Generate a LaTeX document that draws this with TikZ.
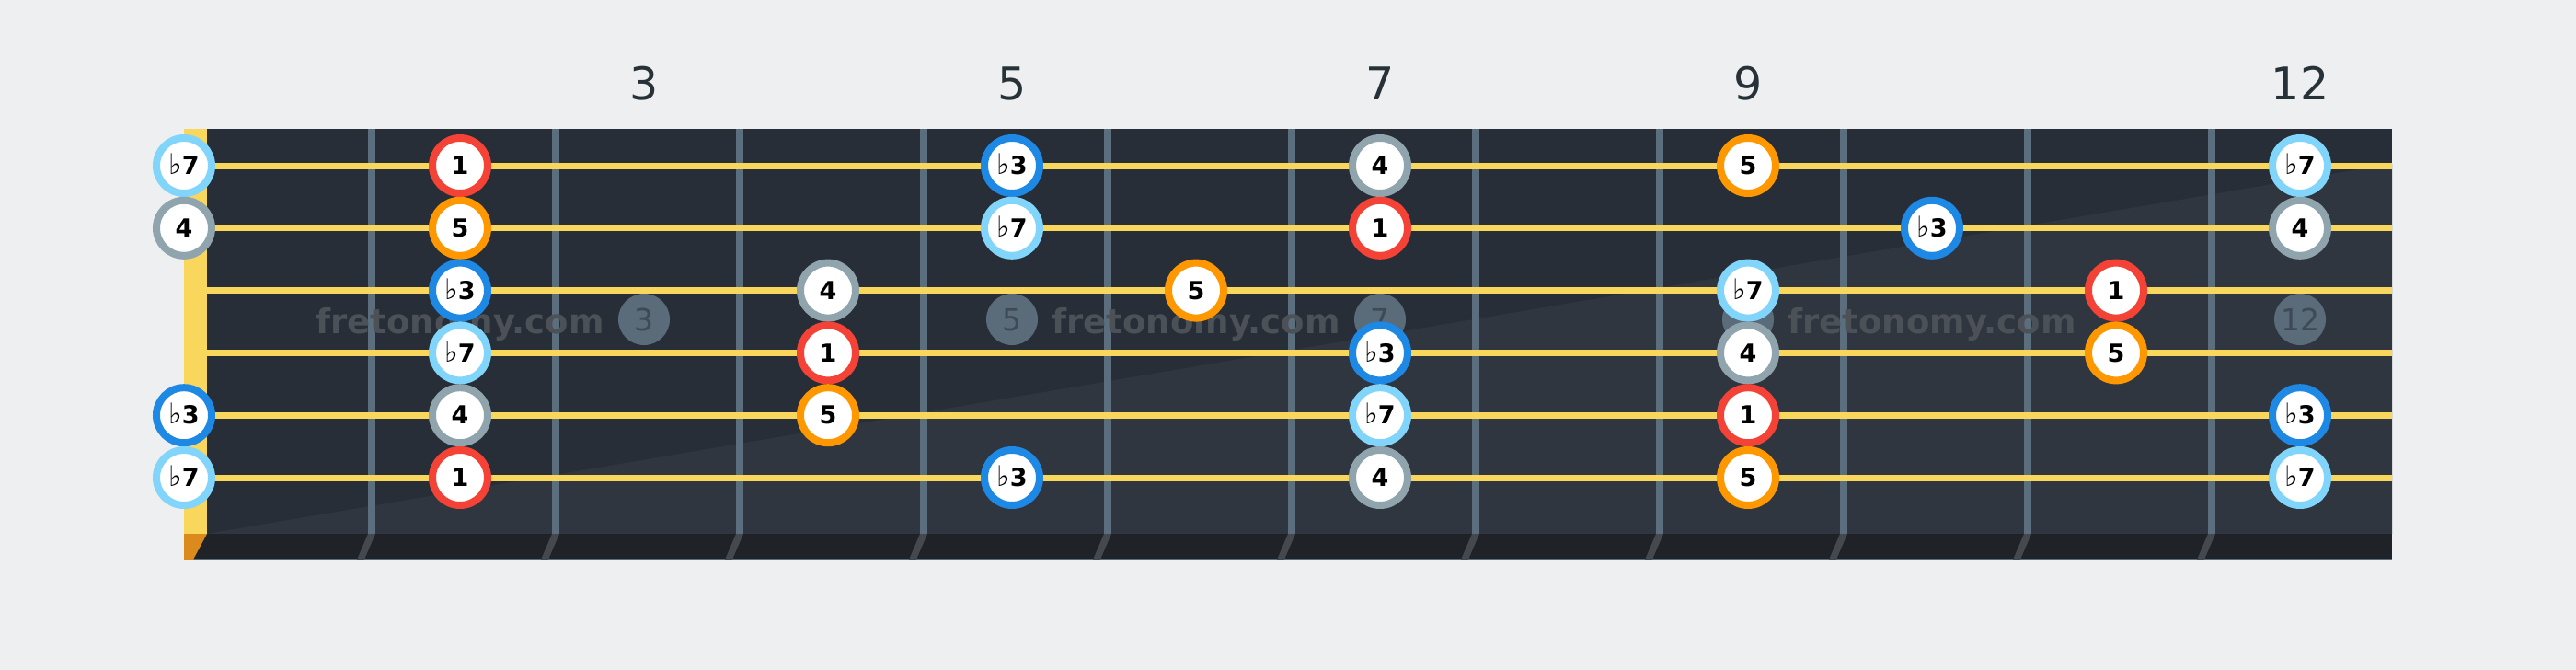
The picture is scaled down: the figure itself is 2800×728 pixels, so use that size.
\documentclass[tikz,border=0pt]{standalone}
\usepackage{fontspec}
\setmainfont{DejaVu Sans}
\definecolor{bgc}{HTML}{EEEFF1}
\definecolor{boardc}{HTML}{272E37}
\definecolor{boardlight}{HTML}{2F363F}
\definecolor{stripc}{HTML}{1F2328}
\definecolor{striplinec}{HTML}{5B6E7E}
\definecolor{wirec}{HTML}{5B6E7E}
\definecolor{hatchc}{HTML}{45494F}
\definecolor{stringc}{HTML}{F9D65C}
\definecolor{nutc}{HTML}{F9D65C}
\definecolor{nutbot}{HTML}{DB8A1C}
\definecolor{fretnumc}{HTML}{263238}
\definecolor{inlayc}{HTML}{5A6B7A}
\definecolor{inlaytxt}{HTML}{3E4A55}
\definecolor{wmc}{HTML}{4C5157}
\definecolor{cR}{HTML}{F44336}
\definecolor{cB}{HTML}{1E88E5}
\definecolor{cG}{HTML}{90A4AE}
\definecolor{cO}{HTML}{FF9800}
\definecolor{cL}{HTML}{81D4FA}
\newcommand\myflat{{\mdseries\fontsize{31}{26}\selectfont ♭}}
\tikzset{
  note/.style={circle, draw=#1, line width=8pt, fill=white, minimum size=60pt, inner sep=0pt,
    font=\bfseries\fontsize{27}{27}\selectfont, text=black, text height=19.5pt, text depth=0pt},
  fretnum/.style={font=\fontsize{49}{49}\selectfont, text=fretnumc, inner sep=0pt, text height=36pt, text depth=0pt},
  inlay/.style={circle, fill=inlayc, minimum size=56pt, inner sep=0pt,
    font=\fontsize{33}{33}\selectfont, text=inlaytxt, text height=24pt, text depth=0pt},
  watermark/.style={font=\bfseries\fontsize{37}{37}\selectfont, text=wmc, inner sep=0pt, anchor=base},
  stringline/.style={draw=stringc, line width=7pt},
}
\begin{document}
\begin{tikzpicture}[x=1pt,y=-1pt]
\useasboundingbox (0,0) rectangle (2800,728);
\fill[bgc] (0,0) rectangle (2800,728);
% fretboard
\fill[boardc] (225,140) rectangle (2600,580);
\fill[boardlight] (225,580) -- (2600,580) -- (2600,178) -- cycle;
\fill[stripc] (200,580) rectangle (2600,608);
\fill[striplinec] (200,607) rectangle (2600,609);
\fill[nutbot] (200,580) -- (225,580) -- (210,608) -- (200,608) -- cycle;
% fret wires
\foreach \x in {404,604,...,2404} {
  \fill[wirec] (\x-4,140) rectangle (\x+4,580);
  \fill[hatchc] (\x-4,580) -- (\x+4,580) -- (\x-8,608) -- (\x-16,608) -- cycle;
}
% inlays
\foreach \f in {3,5,7,9,12} {
  \node[inlay] (inlay\f) at ({100+200*\f},347) {\f};
}
% watermarks
\node[watermark] (wm1) at (500,362) {fretonomy.com};
\node[watermark] (wm2) at (1300,362) {fretonomy.com};
\node[watermark] (wm3) at (2100,362) {fretonomy.com};
% strings
\foreach \y in {180,247.8,315.6,383.4,451.2,519} {
  \draw[stringline] (225,\y) -- (2600,\y);
}
% nut
\fill[nutc] (200,140) rectangle (225,580);
% fret numbers
\foreach \f in {3,5,7,9,12} {
  \node[fretnum] (fn\f) at ({100+200*\f},90) {\f};
}
% notes: string 1
\node[note=cL] (n1f0) at (200,180) {\myflat7};
\node[note=cR] (n1f2) at (500,180) {1};
\node[note=cB] (n1f5) at (1100,180) {\myflat3};
\node[note=cG] (n1f7) at (1500,180) {4};
\node[note=cO] (n1f9) at (1900,180) {5};
\node[note=cL] (n1f12) at (2500,180) {\myflat7};
% string 2
\node[note=cG] (n2f0) at (200,247.8) {4};
\node[note=cO] (n2f2) at (500,247.8) {5};
\node[note=cL] (n2f5) at (1100,247.8) {\myflat7};
\node[note=cR] (n2f7) at (1500,247.8) {1};
\node[note=cB] (n2f10) at (2100,247.8) {\myflat3};
\node[note=cG] (n2f12) at (2500,247.8) {4};
% string 3
\node[note=cB] (n3f2) at (500,315.6) {\myflat3};
\node[note=cG] (n3f4) at (900,315.6) {4};
\node[note=cO] (n3f6) at (1300,315.6) {5};
\node[note=cL] (n3f9) at (1900,315.6) {\myflat7};
\node[note=cR] (n3f11) at (2300,315.6) {1};
% string 4
\node[note=cL] (n4f2) at (500,383.4) {\myflat7};
\node[note=cR] (n4f4) at (900,383.4) {1};
\node[note=cB] (n4f7) at (1500,383.4) {\myflat3};
\node[note=cG] (n4f9) at (1900,383.4) {4};
\node[note=cO] (n4f11) at (2300,383.4) {5};
% string 5
\node[note=cB] (n5f0) at (200,451.2) {\myflat3};
\node[note=cG] (n5f2) at (500,451.2) {4};
\node[note=cO] (n5f4) at (900,451.2) {5};
\node[note=cL] (n5f7) at (1500,451.2) {\myflat7};
\node[note=cR] (n5f9) at (1900,451.2) {1};
\node[note=cB] (n5f12) at (2500,451.2) {\myflat3};
% string 6
\node[note=cL] (n6f0) at (200,519) {\myflat7};
\node[note=cR] (n6f2) at (500,519) {1};
\node[note=cB] (n6f5) at (1100,519) {\myflat3};
\node[note=cG] (n6f7) at (1500,519) {4};
\node[note=cO] (n6f9) at (1900,519) {5};
\node[note=cL] (n6f12) at (2500,519) {\myflat7};
\end{tikzpicture}
\end{document}
